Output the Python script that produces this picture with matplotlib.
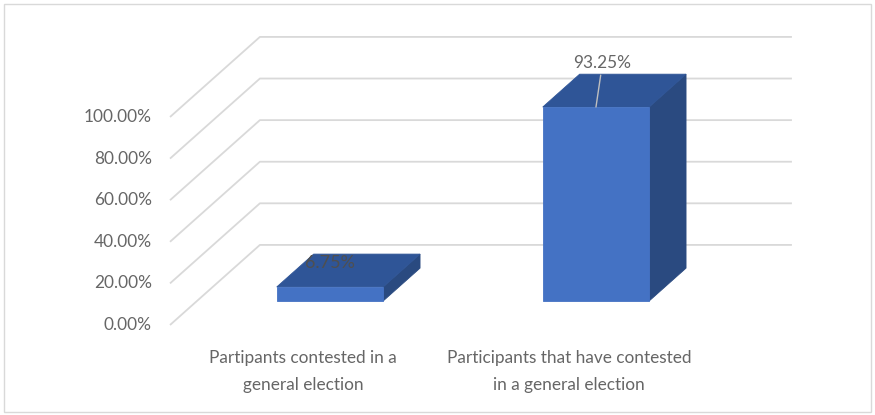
import matplotlib
matplotlib.use("Agg")
import matplotlib.pyplot as plt
from matplotlib.patches import Polygon, Rectangle

plt.rcParams["font.family"] = ["Lato", "DejaVu Sans"]

categories = ["Partipants contested in a\ngeneral election",
              "Participants that have contested\nin a general election"]
values = [6.75, 93.25]
value_labels = ["6.75%", "93.25%"]
ticks = [0, 20, 40, 60, 80, 100]
tick_labels = ["0.00%", "20.00%", "40.00%", "60.00%", "80.00%", "100.00%"]

FRONT = "#4472C4"
TOP = "#2F5597"
SIDE = "#2A4A80"
GRID = "#D9D9D9"
TEXT = "#666666"
FS = 12.4

# depth of the 3d floor, in data units (x: categories, y: percent)
DX, DY = 0.338, 38.5
BAR_W = 0.4
D0, D1 = 0.3, 0.71

W, H = 875, 415
fig = plt.figure(figsize=(W / 100, H / 100), dpi=100)
fig.patches.append(Rectangle((4 / W, 3 / H), 867 / W, 408 / H, transform=fig.transFigure,
                             fill=False, edgecolor="#D9D9D9", lw=1))

ax = fig.add_axes([170 / W, 90 / H, 532 / W, 208 / H])
ax.set_xlim(0, 2)
ax.set_ylim(0, 100)
ax.axis("off")


def pt(x, y, d):
    return (x + d * DX, y + d * DY)


# walls: diagonal floor lines + back gridlines
for t, lab in zip(ticks, tick_labels):
    ax.plot([0, DX, 2 + DX], [t, t + DY, t + DY], color=GRID, lw=1.3, zorder=1,
            clip_on=False, solid_capstyle="butt")
    ax.text(-0.068, t, lab, ha="right", va="center", fontsize=FS, color=TEXT)

for i, v in enumerate(values):
    l = i + 0.5 - BAR_W / 2
    r = i + 0.5 + BAR_W / 2
    front = [pt(l, 0, D0), pt(r, 0, D0), pt(r, v, D0), pt(l, v, D0)]
    top = [pt(l, v, D0), pt(r, v, D0), pt(r, v, D1), pt(l, v, D1)]
    side = [pt(r, 0, D0), pt(r, 0, D1), pt(r, v, D1), pt(r, v, D0)]
    for poly, c in [(side, SIDE), (top, TOP), (front, FRONT)]:
        ax.add_patch(Polygon(poly, closed=True, facecolor=c, edgecolor=c, lw=0.6,
                             zorder=2, clip_on=False))

    ax.text(i + 0.5, -12, categories[i], ha="center", va="top", fontsize=FS,
            color=TEXT, linespacing=1.85)

# data labels
cx, cy = pt(0.5, values[0], D0)
ax.annotate(value_labels[0], xy=(cx, cy), xytext=(0, 17), textcoords="offset points",
            ha="center", va="center", fontsize=FS + 0.5, color="#4F4F4F", zorder=3,
            annotation_clip=False)
cx, cy = pt(1.5, values[1], D0)
ax.annotate(value_labels[1], xy=(cx, cy), xytext=(4.7, 31.7), textcoords="offset points",
            ha="center", va="center", fontsize=FS, color=TEXT, zorder=3,
            annotation_clip=False,
            arrowprops=dict(arrowstyle="-", color="#BFBFBF", lw=1, shrinkA=1, shrinkB=0))

fig.savefig("out.png", dpi=100)
